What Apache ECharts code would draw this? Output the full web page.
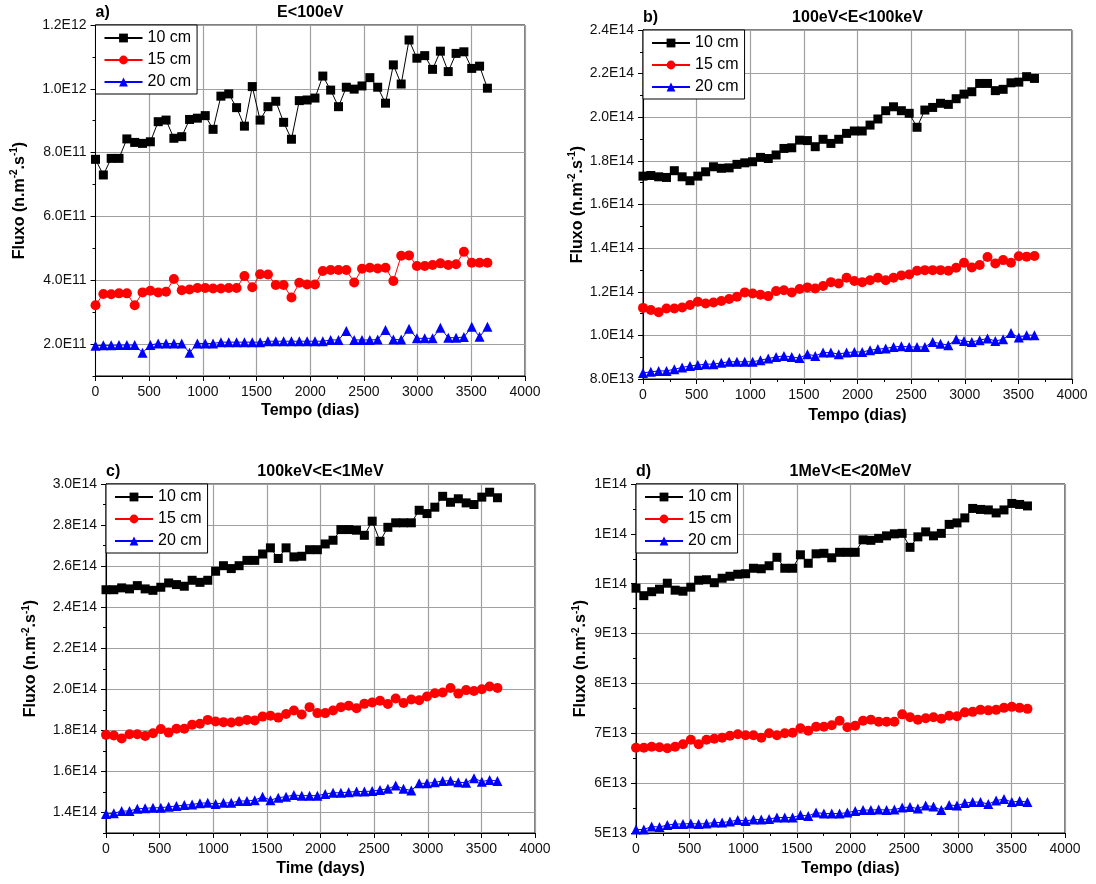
<!DOCTYPE html>
<html>
<head>
<meta charset="utf-8">
<script src="https://cdn.jsdelivr.net/npm/echarts@6/dist/echarts.min.js"></script>
<style>html,body{margin:0;padding:0;background:#fff}#c{width:1096px;height:884px}</style>
</head>
<body>
<div id="c"></div>
<script>
// ---- data ----
const days = [0,73,146,219,292,365,438,511,584,657,730,803,876,949,1022,1095,1168,1241,1314,1387,1460,1533,1606,1679,1752,1825,1898,1971,2044,2117,2190,2263,2336,2409,2482,2555,2628,2701,2774,2847,2920,2993,3066,3139,3212,3285,3358,3431,3504,3577,3650];
const seriesNames = ['10 cm','15 cm','20 cm'];

// panel a (x1E11)
const a10 = [7.79,7.30,7.82,7.82,8.43,8.32,8.29,8.34,8.97,9.02,8.45,8.50,9.04,9.08,9.16,8.73,9.77,9.84,9.41,8.83,10.07,9.02,9.44,9.61,8.95,8.42,9.63,9.65,9.71,10.40,9.96,9.44,10.05,9.99,10.09,10.35,10.05,9.55,10.75,10.15,11.53,10.96,11.04,10.61,11.18,10.54,11.11,11.16,10.64,10.71,10.02];
const a15 = [3.22,3.57,3.56,3.59,3.59,3.22,3.62,3.67,3.62,3.64,4.04,3.69,3.71,3.76,3.76,3.74,3.74,3.76,3.76,4.13,3.78,4.19,4.18,3.85,3.85,3.46,3.92,3.87,3.87,4.29,4.32,4.32,4.32,3.93,4.36,4.39,4.37,4.39,3.98,4.77,4.78,4.45,4.45,4.48,4.53,4.48,4.50,4.89,4.55,4.55,4.55];
const a20 = [1.95,1.96,1.96,1.97,1.97,1.97,1.73,1.97,2.02,2.02,2.02,2.02,1.73,2.02,2.02,2.02,2.06,2.06,2.06,2.06,2.06,2.06,2.09,2.09,2.09,2.09,2.09,2.09,2.09,2.09,2.13,2.13,2.41,2.13,2.13,2.13,2.14,2.44,2.14,2.14,2.48,2.18,2.18,2.18,2.51,2.20,2.20,2.22,2.54,2.23,2.54];
// panel b (x1E13)
const b10 = [17.30,17.33,17.27,17.24,17.55,17.27,17.09,17.30,17.50,17.73,17.66,17.68,17.84,17.91,17.96,18.16,18.11,18.27,18.57,18.60,18.95,18.93,18.65,18.99,18.80,18.99,19.26,19.37,19.37,19.64,19.92,20.30,20.48,20.30,20.18,19.54,20.33,20.45,20.64,20.59,20.85,21.06,21.17,21.55,21.55,21.22,21.28,21.58,21.61,21.86,21.78];
const b15 = [11.26,11.16,11.06,11.23,11.23,11.28,11.39,11.54,11.46,11.51,11.58,11.67,11.77,11.97,11.92,11.86,11.80,12.03,12.07,11.97,12.13,12.20,12.15,12.26,12.44,12.38,12.64,12.49,12.44,12.53,12.64,12.53,12.64,12.75,12.79,12.96,12.99,12.99,12.99,12.96,13.10,13.33,13.11,13.23,13.59,13.30,13.45,13.33,13.63,13.61,13.64];
const b20 = [8.28,8.33,8.37,8.37,8.45,8.53,8.60,8.64,8.68,8.68,8.74,8.79,8.79,8.79,8.79,8.86,8.94,9.01,9.06,9.01,8.96,9.14,9.06,9.21,9.21,9.14,9.21,9.24,9.24,9.32,9.37,9.40,9.47,9.50,9.47,9.47,9.47,9.70,9.62,9.55,9.82,9.74,9.70,9.78,9.86,9.74,9.82,10.11,9.90,10.01,10.01];
// panel c (x1E13)
const c10 = [24.85,24.85,24.94,24.89,25.05,24.89,24.82,24.97,25.18,25.10,25.02,25.31,25.21,25.31,25.75,26.02,25.88,26.02,26.28,26.28,26.59,26.89,26.37,26.89,26.45,26.48,26.80,26.80,27.08,27.26,27.78,27.78,27.75,27.50,28.19,27.21,27.89,28.11,28.11,28.11,28.72,28.56,28.87,29.40,29.11,29.28,29.08,29.00,29.36,29.60,29.33];
const c15 = [17.78,17.75,17.60,17.81,17.81,17.73,17.86,18.06,17.89,18.08,18.08,18.27,18.32,18.51,18.43,18.40,18.38,18.43,18.51,18.48,18.67,18.71,18.62,18.80,18.97,18.77,19.13,18.84,18.84,18.97,19.13,19.20,19.08,19.29,19.36,19.44,19.28,19.55,19.33,19.50,19.47,19.65,19.81,19.84,20.06,19.79,19.96,19.92,20.00,20.14,20.06];
const c20 = [13.93,13.96,14.07,14.07,14.18,14.20,14.23,14.23,14.28,14.31,14.36,14.39,14.45,14.47,14.41,14.47,14.47,14.56,14.56,14.60,14.77,14.60,14.72,14.77,14.85,14.82,14.82,14.82,14.90,14.96,14.96,14.99,15.02,15.02,15.04,15.10,15.15,15.31,15.15,15.07,15.42,15.42,15.47,15.53,15.55,15.47,15.45,15.67,15.50,15.58,15.53];
// panel d (x1E13)
const d10 = [9.91,9.76,9.84,9.89,10.01,9.87,9.85,9.93,10.07,10.08,10.02,10.11,10.15,10.19,10.20,10.31,10.30,10.36,10.53,10.31,10.31,10.58,10.41,10.60,10.61,10.52,10.63,10.63,10.63,10.88,10.87,10.91,10.96,11.00,11.01,10.73,10.94,11.04,10.96,11.01,11.19,11.22,11.32,11.51,11.49,11.48,11.42,11.48,11.61,11.59,11.56];
const d15 = [6.71,6.71,6.73,6.72,6.70,6.73,6.78,6.87,6.78,6.87,6.89,6.91,6.95,6.98,6.96,6.96,6.91,7.00,6.96,7.00,7.01,7.10,7.05,7.13,7.13,7.16,7.25,7.12,7.15,7.25,7.27,7.23,7.23,7.23,7.38,7.32,7.27,7.30,7.32,7.29,7.35,7.34,7.42,7.43,7.47,7.46,7.47,7.51,7.53,7.51,7.49];
const d20 = [5.07,5.07,5.13,5.12,5.16,5.18,5.18,5.19,5.18,5.19,5.21,5.21,5.23,5.26,5.24,5.27,5.27,5.28,5.31,5.31,5.31,5.36,5.34,5.41,5.39,5.39,5.39,5.41,5.44,5.46,5.46,5.47,5.46,5.47,5.51,5.52,5.49,5.55,5.53,5.46,5.56,5.55,5.60,5.62,5.62,5.58,5.65,5.68,5.62,5.64,5.62];

// tick values
const aTicks = [2e11,4e11,6e11,8e11,1.0e12,1.2e12];
const aMinor = [1e11,3e11,5e11,7e11,9e11,1.1e12];
const bTicks = [8e13,1.0e14,1.2e14,1.4e14,1.6e14,1.8e14,2.0e14,2.2e14,2.4e14];
const bMinor = [9e13,1.1e14,1.3e14,1.5e14,1.7e14,1.9e14,2.1e14,2.3e14];
const cTicks = [1.4e14,1.6e14,1.8e14,2.0e14,2.2e14,2.4e14,2.6e14,2.8e14,3.0e14];
const cMinor = [1.3e14,1.5e14,1.7e14,1.9e14,2.1e14,2.3e14,2.5e14,2.7e14,2.9e14];
const dTicks = [5e13,6e13,7e13,8e13,9e13,1.0e14,1.1e14,1.2e14];
const dMinor = [5.5e13,6.5e13,7.5e13,8.5e13,9.5e13,1.05e14,1.15e14];

const FONT = 'Liberation Sans, Arial, sans-serif';
const panels = [
  {tag:'a)', title:'E<100eV', xName:'Tempo (dias)', g:{left:95.5,top:25,width:429.5,height:351},
   min:1e11, max:1.2e12, ticks:aTicks, minor:aMinor, dec:1, scale:1e11, data:[a10,a15,a20], nameGapY:66, nameGapX:27},
  {tag:'b)', title:'100eV<E<100keV', xName:'Tempo (dias)', g:{left:643,top:30,width:429,height:349},
   min:8e13, max:2.4e14, ticks:bTicks, minor:bMinor, dec:1, scale:1e13, data:[b10,b15,b20], nameGapY:55, nameGapX:29},
  {tag:'c)', title:'100keV<E<1MeV', xName:'Time (days)', g:{left:106,top:484,width:429,height:349},
   min:1.3e14, max:3.0e14, ticks:cTicks, minor:cMinor, dec:1, scale:1e13, data:[c10,c15,c20], nameGapY:65, nameGapX:28},
  {tag:'d)', title:'1MeV<E<20MeV', xName:'Tempo (dias)', g:{left:636,top:484,width:429,height:349},
   min:5e13, max:1.2e14, ticks:dTicks, minor:dMinor, dec:0, scale:1e13, data:[d10,d15,d20], nameGapY:45, nameGapX:28}
];
const styles = [
  {color:'#000000', symbol:'rect', size:9},
  {color:'#ff0000', symbol:'circle', size:10},
  {color:'#0000ff', symbol:'triangle', size:10}
];

const grid=[], xAxis=[], yAxis=[], series=[], legend=[], graphic=[];
panels.forEach((p,i)=>{
  grid.push(Object.assign({show:true, borderColor:'#000', borderWidth:1, backgroundColor:'transparent', containLabel:false}, p.g));
  xAxis.push({gridIndex:i, type:'value', min:0, max:4000, interval:500,
    axisLine:{show:true, lineStyle:{color:'#000', width:1}},
    axisTick:{show:true, inside:false, length:5, lineStyle:{color:'#000'}},
    minorTick:{show:true, splitNumber:2, length:3, lineStyle:{color:'#000'}},
    splitLine:{show:true, lineStyle:{color:'#a0a0a0', width:1.2}},
    axisLabel:{fontSize:14, color:'#111', margin:9, fontFamily:FONT, formatter:(v)=>String(v)},
    name:p.xName, nameLocation:'middle', nameGap:p.nameGapX,
    nameTextStyle:{fontSize:16, fontWeight:'bold', color:'#000', fontFamily:FONT}
  });
  yAxis.push({gridIndex:i, type:'value', min:p.min, max:p.max, position:'left',
    axisLine:{show:true, onZero:false, lineStyle:{color:'#000', width:1}},
    axisTick:{show:true, inside:false, length:5, customValues:p.ticks, lineStyle:{color:'#000'}},
    splitLine:{show:true, lineStyle:{color:'#a0a0a0', width:1.2}},
    axisLabel:{fontSize:14, color:'#111', margin:9, fontFamily:FONT, customValues:p.ticks,
      formatter:(v)=>Number(v).toExponential(p.dec).replace('e+','E')},
    name:'{b|Fluxo (n.m}{s|-2}{b|.s}{s|-1}{b|)}', nameLocation:'middle', nameGap:p.nameGapY,
    nameTextStyle:{fontFamily:FONT, rich:{
      b:{fontSize:16, fontWeight:'bold', color:'#000', fontFamily:FONT, lineHeight:20},
      s:{fontSize:10, fontWeight:'bold', color:'#000', fontFamily:FONT, verticalAlign:'top', lineHeight:12}
    }}
  });
  legend.push({orient:'vertical', left:p.g.left, top:p.g.top, padding:[5,6,4,8], itemGap:6,
    itemWidth:38, itemHeight:11, borderColor:'#000', borderWidth:1, borderRadius:0, backgroundColor:'#fff',
    textStyle:{fontSize:16, color:'#000', fontFamily:FONT}, data:seriesNames, selectedMode:false});
  graphic.push({type:'text', x:p.g.left, y:p.g.top - 12, style:{text:p.tag, font:'bold 16px '+FONT, fill:'#000', textAlign:'left', textVerticalAlign:'middle'}});
  graphic.push({type:'text', x:p.g.left + p.g.width/2, y:p.g.top - 12, style:{text:p.title, font:'bold 16px '+FONT, fill:'#000', textAlign:'center', textVerticalAlign:'middle'}});
});
panels.forEach((p,i)=>{
  yAxis.push({gridIndex:i, type:'value', min:p.min, max:p.max, position:'left', offset:0,
    axisLine:{show:false}, axisLabel:{show:false}, splitLine:{show:false},
    axisTick:{show:true, inside:false, length:3, customValues:p.minor, lineStyle:{color:'#000'}}});
});
panels.forEach((p,i)=>{
  p.data.forEach((arr,k)=>{
    const s = styles[k];
    series.push({name:seriesNames[k], type:'line', xAxisIndex:i, yAxisIndex:i,
      data:days.map((d,j)=>[d, arr[j]*p.scale]),
      symbol:s.symbol, symbolSize:s.size, showSymbol:true,
      lineStyle:{color:s.color, width:1}, itemStyle:{color:s.color},
      emphasis:{disabled:true}, z:3+k});
  });
});

const chart = echarts.init(document.getElementById('c'), null, {renderer:'canvas'});
chart.setOption({animation:false, backgroundColor:'#fff', textStyle:{fontFamily:FONT},
  grid, xAxis, yAxis, series, legend, graphic});
</script>
</body>
</html>
